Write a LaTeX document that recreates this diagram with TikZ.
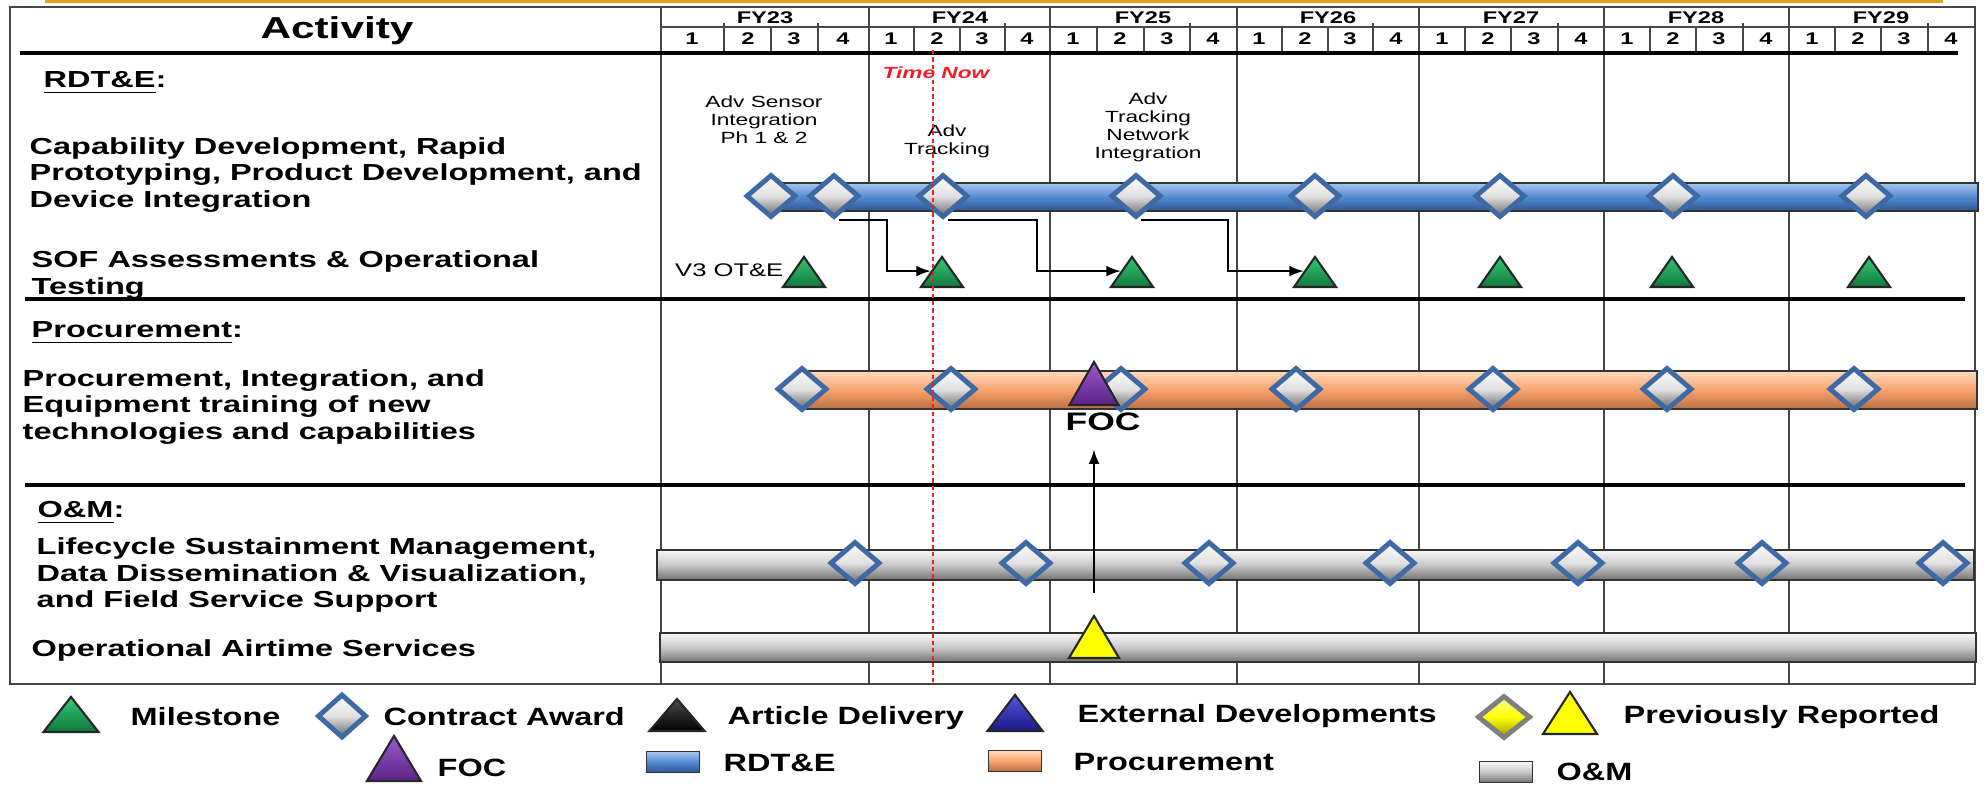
\documentclass[tikz,border=0pt]{standalone}
\usepackage{fontspec}
\setmainfont[FakeStretch=1.4]{Liberation Sans}
\newfontfamily\legendfont[FakeStretch=1.3]{Liberation Sans}
\usetikzlibrary{shapes.geometric}

\definecolor{rimOrange}{RGB}{229,160,28}
\definecolor{gridGray}{RGB}{70,70,70}
\definecolor{awardBlue}{RGB}{62,105,165}
\definecolor{rdteTop}{RGB}{165,198,238}
\definecolor{rdteMid}{RGB}{84,138,210}
\definecolor{rdteBot}{RGB}{45,85,145}
\definecolor{procTop}{RGB}{255,218,190}
\definecolor{procMid}{RGB}{250,163,110}
\definecolor{procBot}{RGB}{185,110,65}
\definecolor{omTop}{RGB}{248,248,248}
\definecolor{omMid}{RGB}{200,200,200}
\definecolor{omBot}{RGB}{115,115,115}
\definecolor{mileTop}{RGB}{55,200,115}
\definecolor{mileBot}{RGB}{15,120,60}
\definecolor{focTop}{RGB}{155,90,205}
\definecolor{focBot}{RGB}{90,35,135}
\definecolor{extTop}{RGB}{85,85,225}
\definecolor{extBot}{RGB}{25,25,135}
\definecolor{prevYellow}{RGB}{255,255,0}
\definecolor{prevDark}{RGB}{190,190,0}
\definecolor{nowRed}{RGB}{240,30,40}

\begin{document}
\begin{tikzpicture}[x=0.01cm,y=-0.01cm,>=latex,
    grid/.style={draw=gridGray,line width=0.6pt},
    rule/.style={draw=black,line width=1.2pt},
    bar/.style={draw=black!80,line width=0.5pt},
    rdtebar/.style={bar,top color=rdteTop,bottom color=rdteBot,middle color=rdteMid},
    procbar/.style={bar,top color=procTop,bottom color=procBot,middle color=procMid},
    ombar/.style={bar,top color=omTop,bottom color=omBot,middle color=omMid},
    award/.style={diamond,inner sep=0pt,minimum width=0.5cm,minimum height=0.43cm,
      draw=awardBlue,line width=1.4pt,top color=white,bottom color=black!60,middle color=white!88!black},
    tri/.style={isosceles triangle,isosceles triangle stretches,shape border rotate=90,
      inner sep=0pt,anchor=lower side,draw=black!85,line width=0.6pt},
    mstone/.style={tri,minimum width=0.42cm,minimum height=0.30cm,top color=mileTop,bottom color=mileBot},
    foctri/.style={tri,minimum width=0.49cm,minimum height=0.43cm,top color=focTop,bottom color=focBot},
    prevtri/.style={tri,minimum width=0.50cm,minimum height=0.42cm,fill=prevYellow},
    hdr/.style={inner sep=0pt,font=\bfseries\fontsize{4.8}{5}\selectfont},
    lbl/.style={anchor=west,align=left,inner sep=0pt,font=\bfseries\fontsize{6.6}{7.5}\selectfont},
    note/.style={align=center,inner sep=0pt,font=\fontsize{4.6}{5.1}\selectfont},
    key/.style={anchor=west,inner sep=0pt,font=\legendfont\bfseries\fontsize{7.1}{8}\selectfont},
    keybox/.style={rectangle,inner sep=0pt,minimum width=0.53cm,minimum height=0.21cm}
  ]
\useasboundingbox (0,0) rectangle (1986,787);

% frame and header
\draw[rimOrange,line width=1pt] (45,1.5) -- (1943,1.5);
\draw[grid] (10,7) rectangle (1975,684);
\draw[grid] (661,7) -- (661,684);
\draw[grid] (661,27) -- (1975,27);
\foreach \x in {869,1050,1237,1419,1604,1789}
  \draw[grid] (\x,7) -- (\x,684);
\foreach \x in {724,771,818,914,960,1005,1097,1144,1190,1282,1328,1373,1465,1511,1558,1650,1696,1743,1835,1881,1928}
  \draw[grid] (\x,27) -- (\x,53);
\foreach \x in {724,818,1005,1190,1373,1558,1743,1928}
  \draw[grid] (\x,23) -- (\x,27);
\draw[rule] (20,53) -- (1958,53);
\draw[rule] (25,299) -- (1965,299);
\draw[rule] (25,485) -- (1965,485);

\node[font=\bfseries\fontsize{8.6}{9}\selectfont,inner sep=0pt] (act) at (337,31) {Activity};
\foreach \x/\fy [count=\i] in {765/23,960/24,1143/25,1328/26,1511/27,1696/28,1881/29}
  \node[hdr] (fy\i) at (\x,18) {FY\fy};
\foreach \x/\q [count=\i] in {692/1,748/2,794/3,843/4,891/1,937/2,982/3,1027/4,1073/1,1120/2,1167/3,1213/4,
    1259/1,1305/2,1350/3,1396/4,1442/1,1488/2,1534/3,1581/4,1627/1,1673/2,1719/3,1766/4,1812/1,1858/2,1904/3,1951/4}
  \node[hdr] (q\i) at (\x,39) {\q};

% activity labels
\node[lbl] (secR) at (43,83) {\underline{RDT\&E}:};
\node[lbl] (capDev) at (29,175) {Capability Development, Rapid\\Prototyping, Product Development, and\\Device Integration};
\node[lbl] (sofTest) at (31,275) {SOF Assessments \& Operational\\Testing};
\node[lbl] (secP) at (31,333) {\underline{Procurement}:};
\node[lbl] (procInt) at (22,407) {Procurement, Integration, and\\Equipment training of new\\technologies and capabilities};
\node[lbl] (secO) at (37,513) {\underline{O\&M}:};
\node[lbl] (lifeSus) at (36,575) {Lifecycle Sustainment Management,\\Data Dissemination \& Visualization,\\and Field Service Support};
\node[lbl] (airTime) at (31,650) {Operational Airtime Services};

% bars
\draw[rdtebar] (771,183) rectangle (1978,211);
\draw[procbar] (802,371) rectangle (1977,409);
\draw[ombar] (657,550) rectangle (1974,580);
\draw[ombar] (660,633) rectangle (1976,662);

% RDT&E row
\node[note] (nSens) at (764,120) {Adv Sensor\\Integration\\Ph 1 \& 2};
\node[note] (nTrk) at (947,141) {Adv\\Tracking};
\node[note] (nNet) at (1148,127) {Adv\\Tracking\\Network\\Integration};
\foreach \x [count=\i] in {771,834,943,1136,1315,1500,1673,1866}
  \node[award] (dR\i) at (\x,196) {};
\foreach \x [count=\i] in {804,942,1132,1315,1500,1672,1869}
  \node[mstone] (mS\i) at (\x,288) {};
\node[anchor=east,inner sep=0pt,font=\fontsize{5.2}{6}\selectfont] (v3) at (784,270) {V3 OT\&E};
\draw[->] ([xshift=0.05cm]dR2.south) -- ++(48,0) |- (mS2.left side);
\draw[->] ([xshift=0.05cm]dR3.south) -- ++(89,0) |- (mS3.left side);
\draw[->] ([xshift=0.05cm]dR4.south) -- ++(87,0) |- (mS4.left side);

% procurement row
\foreach \x [count=\i] in {802,951,1121,1296,1493,1667,1854}
  \node[award] (dP\i) at (\x,389) {};
\node[foctri] (focT) at (1094,406) {};
\node[font=\bfseries\fontsize{7.2}{8}\selectfont,inner sep=0pt] (focLbl) at (1103,422) {FOC};

% O&M rows
\foreach \x [count=\i] in {855,1026,1209,1390,1578,1762,1943}
  \node[award] (dO\i) at (\x,563) {};
\node[prevtri] (prevT) at (1094,659) {};
\draw[->,shorten <=0.2cm,shorten >=0.18cm] (prevT.apex) -- (prevT.apex |- focLbl.south);

% time now
\draw[nowRed,line width=0.6pt,dash pattern=on 1.2pt off 0.9pt] (933,50) -- (933,684);
\node[font=\bfseries\itshape\fontsize{4.6}{5}\selectfont,text=nowRed,inner sep=0pt] (tNow) at (936,73) {Time Now};

% legend
\node[mstone,minimum width=0.55cm,minimum height=0.35cm] (kMile) at (71,733) {};
\node[key] (kMileTxt) at (130,717) {Milestone};
\node[award,minimum width=0.49cm,minimum height=0.44cm] (kAward) at (342,716) {};
\node[key] (kAwardTxt) at (383,717) {Contract Award};
\node[tri,minimum width=0.55cm,minimum height=0.32cm,top color=black!70,bottom color=black] (kArt) at (677,732) {};
\node[key] (kArtTxt) at (727,718) {Article Delivery};
\node[tri,minimum width=0.55cm,minimum height=0.36cm,top color=extTop,bottom color=extBot] (kExt) at (1015,732) {};
\node[key] (kExtTxt) at (1077,716) {External Developments};
\node[award,minimum width=0.53cm,minimum height=0.43cm,draw=gray,top color=prevYellow!40!white,bottom color=prevDark!80!black,middle color=prevYellow] (kPrevD) at (1504,717) {};
\node[prevtri,minimum width=0.54cm,minimum height=0.42cm] (kPrevT) at (1570,735) {};
\node[key] (kPrevTxt) at (1623,717) {Previously Reported};
\node[foctri,minimum width=0.54cm,minimum height=0.45cm] (kFoc) at (394,782) {};
\node[key] (kFocTxt) at (437,768) {FOC};
\node[keybox,rdtebar] (kRdte) at (673,762) {};
\node[key] (kRdteTxt) at (723,763) {RDT\&E};
\node[keybox,procbar] (kProc) at (1015,761) {};
\node[key] (kProcTxt) at (1073,762) {Procurement};
\node[keybox,ombar] (kOM) at (1506,772) {};
\node[key] (kOMTxt) at (1556,772) {O\&M};

\end{tikzpicture}
\end{document}
